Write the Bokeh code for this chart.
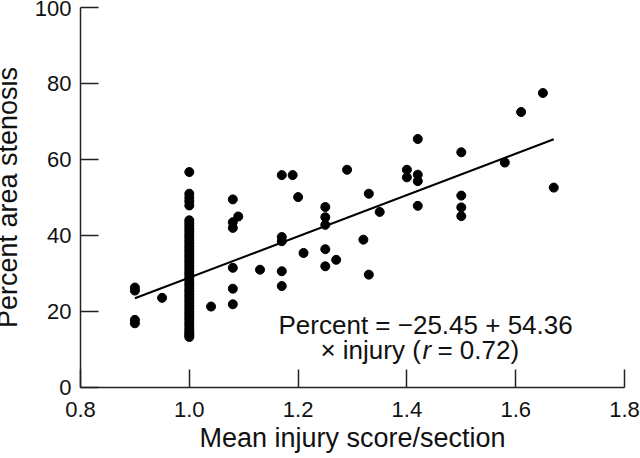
import numpy as np
from bokeh.plotting import figure
from bokeh.models import Range1d, FixedTicker, PrintfTickFormatter
from bokeh.core.properties import value
from bokeh.embed import file_html
from bokeh.resources import INLINE

# ---- data ----
injury_col = [1.0] * 48
stenosis_col = [56.7, 51.0, 50.0, 49.0, 47.9, 44.0, 43.3, 42.5, 41.7, 41.0,
                40.2, 39.5, 38.7, 38.0, 37.2, 36.5, 35.8, 35.0, 34.3, 33.5,
                32.8, 32.0, 31.3, 30.5, 29.8, 29.0, 28.3, 27.5, 26.8, 26.0,
                25.3, 24.5, 23.8, 23.0, 22.3, 21.5, 20.8, 20.0, 19.3, 18.5,
                17.8, 17.0, 16.3, 15.5, 14.8, 14.2, 13.7, 13.3]

injury_other = [0.9, 0.9, 0.9, 0.9, 0.95, 1.04,
                1.08, 1.08, 1.08, 1.08, 1.08, 1.08, 1.09, 1.13,
                1.17, 1.17, 1.17, 1.17, 1.17, 1.19, 1.2, 1.21,
                1.25, 1.25, 1.25, 1.25, 1.25, 1.27, 1.29, 1.32, 1.33, 1.33, 1.35,
                1.4, 1.4, 1.42, 1.42, 1.42, 1.42,
                1.5, 1.5, 1.5, 1.5, 1.58, 1.61, 1.65, 1.67]
stenosis_other = [26.3, 25.5, 17.8, 16.9, 23.6, 21.3,
                  49.5, 43.5, 42.0, 31.5, 26.0, 21.9, 45.0, 31.0,
                  55.9, 39.6, 38.5, 30.6, 26.7, 55.9, 50.1, 35.4,
                  47.5, 44.8, 42.8, 36.4, 31.9, 33.6, 57.3, 38.9, 29.7, 51.0, 46.2,
                  57.3, 55.3, 65.4, 56.0, 54.3, 47.8,
                  61.9, 50.5, 47.4, 45.1, 59.2, 72.5, 77.5, 52.6]

fit_intercept = -25.45
fit_slope = 54.36
fit_x = [0.9, 1.67]

x_ticks = [0.8, 1.0, 1.2, 1.4, 1.6, 1.8]
y_ticks = [0, 20, 40, 60, 80, 100]

eq_line1 = "Percent = \u221225.45 + 54.36"
eq_line2a = "\u00d7 injury ("
eq_line2b = "r"
eq_line2c = " = 0.72)"

# ---- figure ----
FONT = "Liberation Sans"
SHIFT = 16  # figure is pulled left so the y title can sit near the page edge
p = figure(width=640 + SHIFT, height=458, x_range=Range1d(0.8, 1.8), y_range=Range1d(0, 100),
           output_backend="svg", toolbar_location=None,
           min_border_left=80 + SHIFT, min_border_right=16, min_border_top=7, min_border_bottom=71)
p.styles = {"margin-left": f"-{SHIFT}px"}
p.outline_line_color = None
p.xgrid.visible = False
p.ygrid.visible = False
p.background_fill_color = "white"
p.border_fill_color = "white"

for ax in (p.xaxis[0], p.yaxis[0]):
    ax.axis_line_width = 1.5
    ax.axis_line_color = "#222222"
    ax.major_tick_line_width = 1.5
    ax.major_tick_line_color = "#222222"
    ax.major_tick_in = 18
    ax.major_tick_out = 0
    ax.minor_tick_line_color = None
    ax.major_label_text_font = FONT
    ax.major_label_text_font_size = "22px"
    ax.major_label_text_color = "#111111"
    ax.axis_label_text_font = FONT
    ax.axis_label_text_font_size = "27px"
    ax.axis_label_text_font_style = "normal"
    ax.axis_label_text_color = "#111111"

p.xaxis[0].ticker = FixedTicker(ticks=x_ticks)
p.xaxis[0].formatter = PrintfTickFormatter(format="%.1f")
p.yaxis[0].ticker = FixedTicker(ticks=y_ticks)
p.xaxis[0].axis_label = "Mean injury score/section"
p.yaxis[0].axis_label = "Percent area stenosis"
p.xaxis[0].major_label_standoff = 14
p.xaxis[0].axis_label_standoff = 3
p.yaxis[0].major_label_standoff = 9
p.yaxis[0].axis_label_standoff = 9

# regression line
fx = np.array(fit_x)
p.line(fx, fit_intercept + fit_slope * fx, line_color="black", line_width=2)

# points
p.scatter(injury_col, stenosis_col, size=9, fill_color="black", line_color="black")
p.scatter(injury_other, stenosis_other, size=9, fill_color="black", line_color="black")

# equation text
eq_x1, eq_y1 = 1.164, 16.4
eq_x2, eq_y2 = 1.241, 9.8
common = dict(text_font=value(FONT), text_font_size="26px", text_color="#111111",
              text_baseline="alphabetic", text_align="left")
p.text(x=[eq_x1], y=[eq_y1], text=[eq_line1], **common)
p.text(x=[eq_x2], y=[eq_y2], text=[eq_line2a], **common)
p.text(x=[eq_x2], y=[eq_y2], text=[eq_line2b], x_offset=102, text_font_style="italic", **common)
p.text(x=[eq_x2], y=[eq_y2], text=[eq_line2c], x_offset=117, **common)

open("out.html", "w").write(file_html(p, INLINE))
